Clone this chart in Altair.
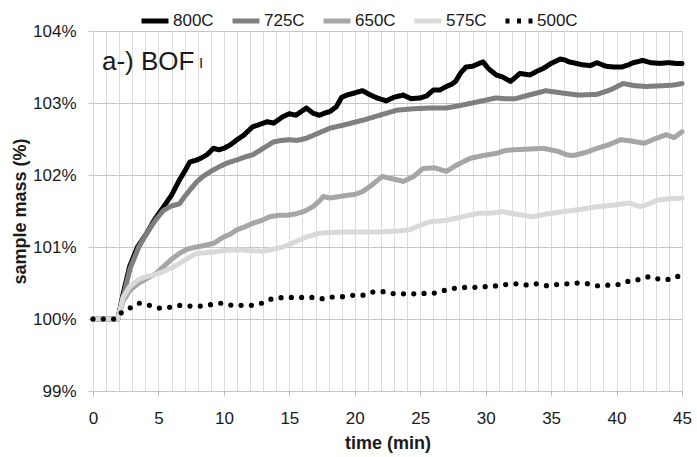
import altair as alt
import pandas as pd

series_names = ["800C", "725C", "650C", "575C", "500C"]
series_colors = ["#000000", "#7f7f7f", "#a6a6a6", "#d9d9d9", "#000000"]
legend_dashes = [[1, 0], [1, 0], [1, 0], [1, 0], [4, 7.5]]

y_ticks = [99, 100, 101, 102, 103, 104]
x_grid = list(range(0, 46))

t800 = [0, 1.9, 2.3, 2.8, 3.4, 4.1, 4.7, 5.4, 6.0, 6.6, 7.0, 7.4, 7.8, 8.2, 8.7, 9.2, 9.6, 10.0, 10.5,
        11.0, 11.5, 12.2, 12.7, 13.3, 13.8, 14.5, 15.0, 15.5, 16.3, 16.8, 17.3, 17.7, 18.1, 18.6,
        19.0, 19.4, 20.0, 20.6, 21.1, 21.7, 22.4, 23.0, 23.7, 24.3, 25.0, 25.5, 26.0, 26.5, 27.0,
        27.4, 27.7, 28.1, 28.5, 29.0, 29.5, 29.8, 30.2, 30.8, 31.3, 31.9, 32.3, 32.6, 33.0, 33.4,
        33.9, 34.4, 35.0, 35.7, 36.0, 36.4, 36.9, 37.4, 38.0, 38.5, 39.2, 39.8, 40.4, 40.9, 41.3,
        42.0, 42.6, 43.3, 44.0, 44.5, 45.0]
v800 = [100, 100, 100.35, 100.73, 101.0, 101.19, 101.38, 101.56, 101.72, 101.93, 102.05, 102.18,
        102.2, 102.23, 102.28, 102.37, 102.35, 102.37, 102.42, 102.49, 102.55, 102.67, 102.7,
        102.74, 102.72, 102.81, 102.85, 102.83, 102.93, 102.86, 102.83, 102.86, 102.88, 102.95,
        103.08, 103.11, 103.14, 103.17, 103.12, 103.07, 103.03, 103.08, 103.11, 103.06, 103.07,
        103.1, 103.18, 103.18, 103.23, 103.26, 103.3, 103.42, 103.5, 103.51, 103.55, 103.57,
        103.48, 103.39, 103.36, 103.3, 103.36, 103.41, 103.4, 103.39, 103.44, 103.48, 103.55,
        103.61, 103.6, 103.57, 103.55, 103.53, 103.52, 103.56, 103.51, 103.5, 103.5, 103.53,
        103.56, 103.59, 103.56, 103.55, 103.56, 103.55, 103.55]

t725 = [0, 1.9, 2.3, 2.83, 3.5, 4.1, 4.8, 5.4, 6.0, 6.6, 7.0, 7.4, 7.9, 8.4, 9.0, 9.7, 10.3, 11.0,
        11.6, 12.2, 13.0, 13.8, 14.4, 15.0, 15.6, 16.3, 17.2, 18.1, 19.3, 20.6, 21.9, 23.2, 24.5,
        25.7, 27.0, 28.2, 29.5, 30.8, 31.5, 32.3, 33.5, 34.6, 35.8, 37.1, 38.5, 39.5, 40.5, 41.4,
        42.3, 43.5, 44.4, 45.0]
v725 = [100, 100, 100.3, 100.7, 101.0, 101.19, 101.38, 101.51, 101.57, 101.6, 101.7, 101.79,
        101.9, 101.98, 102.05, 102.12, 102.17, 102.21, 102.25, 102.28, 102.37, 102.46, 102.48,
        102.49, 102.48, 102.51, 102.58, 102.65, 102.7, 102.76, 102.83, 102.9, 102.92, 102.93,
        102.93, 102.97, 103.02, 103.07, 103.06, 103.06, 103.12, 103.17, 103.14, 103.11, 103.12,
        103.18, 103.27, 103.24, 103.23, 103.24, 103.25, 103.27]

t650 = [0, 1.9, 2.3, 2.83, 3.5, 4.1, 4.8, 5.4, 6.0, 6.6, 7.2, 7.9, 8.5, 9.2, 10.0, 10.5, 11.0, 11.6,
        12.2, 12.9, 13.5, 14.2, 14.8, 15.5, 16.2, 16.8, 17.3, 17.6, 18.1, 18.8, 19.5, 20.0, 20.6,
        21.3, 22.1, 22.8, 23.7, 24.5, 25.2, 26.1, 27.0, 27.8, 28.8, 29.8, 30.8, 31.5, 32.1, 33.3,
        34.4, 35.5, 36.2, 36.7, 37.6, 38.5, 39.4, 40.3, 41.2, 42.1, 42.9, 43.8, 44.4, 45.0]
v650 = [100, 100, 100.25, 100.4, 100.5, 100.56, 100.63, 100.73, 100.83, 100.91, 100.97, 101.0,
        101.02, 101.05, 101.14, 101.18, 101.24, 101.28, 101.33, 101.37, 101.42, 101.44, 101.44,
        101.46, 101.5, 101.56, 101.64, 101.7, 101.68, 101.7, 101.72, 101.73, 101.77, 101.86,
        101.98, 101.95, 101.91, 101.98, 102.09, 102.1, 102.05, 102.14, 102.23, 102.27, 102.3,
        102.34, 102.35, 102.36, 102.37, 102.33, 102.28, 102.27, 102.31, 102.37, 102.42, 102.49,
        102.47, 102.44, 102.5, 102.56, 102.52, 102.6]

t575 = [0, 1.9, 2.3, 2.8, 3.5, 4.1, 4.8, 5.4, 6.0, 6.6, 7.2, 7.9, 8.5, 9.2, 10.0, 11.0, 12.0, 13.0,
        13.8, 14.5, 15.2, 15.8, 16.5, 17.3, 18.1, 19.4, 20.6, 22.1, 23.2, 24.2, 25.0, 25.7, 27.0,
        28.2, 29.5, 30.4, 31.3, 32.5, 33.6, 34.7, 35.9, 37.2, 38.5, 39.7, 41.0, 41.8, 42.5, 43.1,
        44.0, 45.0]
v575 = [100, 100, 100.3, 100.45, 100.55, 100.59, 100.62, 100.66, 100.71, 100.77, 100.84, 100.91,
        100.92, 100.93, 100.95, 100.96, 100.95, 100.94, 100.97, 101.0, 101.05, 101.1, 101.15,
        101.19, 101.2, 101.21, 101.21, 101.21, 101.22, 101.24, 101.3, 101.35, 101.37, 101.42,
        101.47, 101.47, 101.49, 101.45, 101.42, 101.46, 101.49, 101.52, 101.56, 101.58, 101.61,
        101.56, 101.6, 101.65, 101.67, 101.68]

t500 = [0, 1.7, 2.1, 2.8, 3.5, 4.3, 5.1, 5.8, 6.65, 7.4, 8.2, 9.0, 9.8, 10.6, 11.4, 12.2, 12.9,
        13.65, 14.5, 16.0, 16.8, 17.6, 18.4, 19.1, 19.9, 20.6, 21.5, 22.2, 23.0, 24.6, 26.1, 26.9,
        27.7, 28.5, 29.3, 30.1, 30.8, 31.6, 32.4, 33.2, 33.9, 34.7, 35.5, 36.3, 37.1, 37.8, 38.6,
        39.4, 40.2, 41.0, 41.8, 42.5, 43.3, 44.1, 44.8, 45.0]
v500 = [100, 100, 100.08, 100.15, 100.22, 100.19, 100.15, 100.16, 100.19, 100.18, 100.18, 100.2,
        100.22, 100.19, 100.19, 100.19, 100.22, 100.28, 100.3, 100.3, 100.3, 100.28, 100.31,
        100.31, 100.33, 100.33, 100.38, 100.38, 100.35, 100.35, 100.36, 100.4, 100.43, 100.44,
        100.44, 100.45, 100.46, 100.48, 100.49, 100.47, 100.49, 100.46, 100.48, 100.49, 100.5,
        100.49, 100.46, 100.47, 100.48, 100.53, 100.55, 100.59, 100.55, 100.55, 100.6, 100.6]

rows = []
for name, ts, vs in [("800C", t800, v800), ("725C", t725, v725), ("650C", t650, v650),
                     ("575C", t575, v575), ("500C", t500, v500)]:
    for i, (t, v) in enumerate(zip(ts, vs)):
        rows.append({"series": name, "time": t, "mass": v, "idx": i})
df = pd.DataFrame(rows)

FONT = "Liberation Sans"
TXT = "#1a1a1a"

x_enc = alt.X(
    "time:Q",
    scale=alt.Scale(domain=[0, 45], nice=False, zero=False),
    axis=alt.Axis(
        values=x_grid,
        labelExpr="datum.value % 5 === 0 ? datum.label : ''",
        labelOverlap=False,
        labelFlush=False,
        labelFontSize=17,
        labelFont=FONT,
        labelColor=TXT,
        labelPadding=14,
        tickSize=5,
        tickColor="#bfbfbf",
        tickOpacity={"condition": {"test": "datum.value % 5 === 0", "value": 1}, "value": 0},
        domain=False,
        grid=True,
        gridColor="#dcdcdc",
        gridWidth=1,
        title="time (min)",
        titleFont=FONT,
        titleFontSize=18,
        titleFontWeight="bold",
        titleColor=TXT,
        titleBaseline="alphabetic",
        titleY=57,
    ),
)
y_enc = alt.Y(
    "mass:Q",
    scale=alt.Scale(domain=[99, 104], nice=False, zero=False),
    axis=alt.Axis(
        values=y_ticks,
        labelExpr="datum.value + '%'",
        labelFontSize=17,
        labelFont=FONT,
        labelColor=TXT,
        labelPadding=12,
        tickSize=5,
        tickColor="#c6c6c6",
        domain=False,
        grid=True,
        gridColor="#c6c6c6",
        gridWidth=1,
        title="sample mass (%)",
        titleFont=FONT,
        titleFontSize=18,
        titleFontWeight="bold",
        titleColor=TXT,
        titleAngle=270,
        titleX=-73,
        titleY=180,
        titleAlign="center",
        titleBaseline="middle",
    ),
)

legend = alt.Legend(
    orient="none",
    legendX=46,
    legendY=-26,
    direction="horizontal",
    title=None,
    symbolType="stroke",
    symbolSize=729,
    symbolStrokeWidth=5,
    labelFontSize=17,
    labelFont=FONT,
    labelColor=TXT,
    labelOffset=2,
    columnPadding=8,
)

solid = alt.Chart(df).transform_filter(
    "datum.series !== '500C'"
).mark_line(strokeWidth=5, strokeCap="round", strokeJoin="round").encode(
    x=x_enc,
    y=y_enc,
    color=alt.Color("series:N", scale=alt.Scale(domain=series_names, range=series_colors), legend=legend),
    strokeDash=alt.StrokeDash("series:N", scale=alt.Scale(domain=series_names, range=legend_dashes), legend=legend),
    order="idx:Q",
)

dotted = alt.Chart(df).transform_filter(
    "datum.series === '500C'"
).mark_line(strokeWidth=5.2, strokeCap="round", strokeDash=[0, 10.3], color="black").encode(
    x=x_enc,
    y=y_enc,
    order="idx:Q",
)

label_df = pd.DataFrame({"main": ["a-) BOF"], "sub": ["I"]})
main_text = alt.Chart(label_df).mark_text(
    align="left", baseline="alphabetic", fontSize=26, font=FONT, color=TXT
).encode(text="main:N", x=alt.value(9), y=alt.value(39))
sub_text = alt.Chart(label_df).mark_text(
    align="left", baseline="alphabetic", fontSize=15, font=FONT, color=TXT
).encode(text="sub:N", x=alt.value(106), y=alt.value(37))

chart = alt.layer(solid, dotted, main_text, sub_text).properties(
    width=589,
    height=360,
    autosize=alt.AutoSizeParams(type="none"),
    padding={"left": 93, "top": 31, "right": 15, "bottom": 66},
).configure_view(stroke=None).configure(background="white")

chart.save("out.html", embed_options={"renderer": "svg", "actions": False})
